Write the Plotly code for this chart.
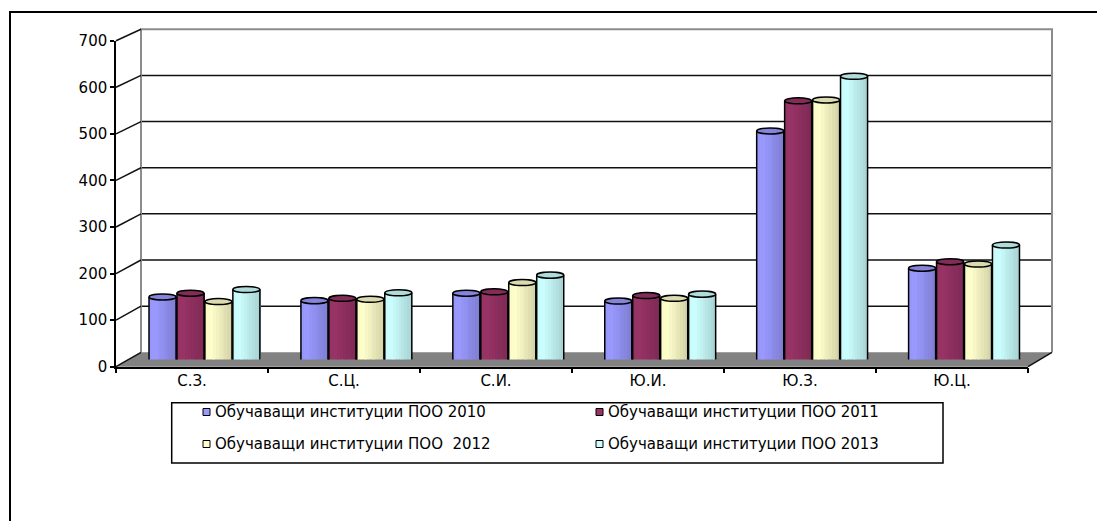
import numpy as np
import plotly.graph_objects as go

# ---- data -------------------------------------------------------------
regions = ["С.З.", "С.Ц.", "С.И.", "Ю.И.", "Ю.З.", "Ю.Ц."]
series_names = [
    "Обучаващи институции ПОО 2010",
    "Обучаващи институции ПОО 2011",
    "Обучаващи институции ПОО\u00a0 2012",
    "Обучаващи институции ПОО 2013",
]
v2010 = [135, 127, 143, 126, 493, 197]
v2011 = [143, 132, 146, 138, 558, 211]
v2012 = [125, 130, 166, 132, 560, 206]
v2013 = [151, 144, 182, 141, 611, 247]
series_values = [v2010, v2011, v2012, v2013]
y_ticks = [0, 100, 200, 300, 400, 500, 600, 700]

# ---- styling ----------------------------------------------------------
colors = ["#9999FF", "#993366", "#FFFFCC", "#CCFFFF"]
FONT = "DejaVu Sans"
W, H = 1097, 521
Y_MAX = 700

# pixel frame of the pseudo-3D box (front axis, back wall, mid depth)
FRONT_L, FRONT_R, FRONT_Y0, FRONT_YT = 116, 1028, 366.7, 40.7
BACK_L, BACK_R, BACK_Y0, BACK_YT = 141, 1052, 352.3, 29.3
MID_L, MID_R, MID_Y0, MID_YT = 128.5, 1040, 359.5, 35.0


def px(x):
    return x / W


def py(y):
    return (H - y) / H


def front_y(t):
    return FRONT_Y0 + (FRONT_YT - FRONT_Y0) * t / Y_MAX


def back_y(t):
    return BACK_Y0 + (BACK_YT - BACK_Y0) * t / Y_MAX


def shade(hex_color, f):
    h = hex_color.lstrip("#")
    rgb = [int(h[i:i + 2], 16) for i in (0, 2, 4)]
    rgb = [max(0, min(255, int(round(c * f)))) for c in rgb]
    return "rgb({},{},{})".format(*rgb)


# cylinder geometry in bar-axis units
slot = 0.184          # distance between neighbouring cylinders
bar_w = 0.178         # cylinder diameter
ell = 6.5             # half height of the elliptical caps (value units)
n_strips = 10

fig = go.Figure()

# cylinder bodies: vertical strips with a left-to-right shading
for k, (vals, col) in enumerate(zip(series_values, colors)):
    centers = np.arange(len(regions)) + (k - 1.5) * slot
    sw = bar_w / n_strips
    for j in range(n_strips):
        u = -1 + (2 * j + 1) / n_strips
        f = 1.0 - 0.05 * abs(u + 0.55) - 0.07 * max(0.0, u + 0.55)
        base = -ell * np.sqrt(max(0.0, 1 - u * u))
        fig.add_trace(go.Bar(
            x=centers + (j - (n_strips - 1) / 2) * sw,
            y=[v - base for v in vals],
            base=[base] * len(vals),
            width=sw * 1.08,
            marker=dict(color=shade(col, f), line=dict(width=0)),
            xaxis="x", yaxis="y",
            showlegend=False, hoverinfo="skip",
        ))

# carriers for the front axes and the back wall
fig.add_trace(go.Scatter(x=regions, y=[0] * len(regions), xaxis="x2", yaxis="y2",
                         mode="markers", marker=dict(opacity=0),
                         showlegend=False, hoverinfo="skip"))
fig.add_trace(go.Scatter(x=[0], y=[0], xaxis="x3", yaxis="y3",
                         mode="markers", marker=dict(opacity=0),
                         showlegend=False, hoverinfo="skip"))

shapes = []
# floor
shapes.append(dict(
    type="path", xref="paper", yref="paper", layer="below",
    path="M {},{} L {},{} L {},{} L {},{} Z".format(
        px(FRONT_L), py(FRONT_Y0), px(FRONT_R), py(FRONT_Y0),
        px(BACK_R), py(BACK_Y0), px(BACK_L), py(BACK_Y0)),
    fillcolor="#828282", line=dict(width=0)))
# back wall gridlines
for t in y_ticks[1:-1]:
    shapes.append(dict(type="line", xref="paper", yref="y3", layer="below",
                       x0=px(BACK_L), x1=px(BACK_R), y0=t, y1=t,
                       line=dict(color="#111111", width=1.5)))
# back wall frame
shapes.append(dict(
    type="path", xref="paper", yref="paper", layer="below",
    path="M {},{} L {},{} L {},{} L {},{}".format(
        px(BACK_L), py(BACK_Y0), px(BACK_L), py(BACK_YT),
        px(BACK_R), py(BACK_YT), px(BACK_R), py(BACK_Y0)),
    line=dict(color="#8c8c8c", width=2)))
# slanted ticks joining the value axis to the wall
for t in y_ticks:
    shapes.append(dict(type="line", xref="paper", yref="paper", layer="below",
                       x0=px(FRONT_L), y0=py(front_y(t)),
                       x1=px(BACK_L), y1=py(back_y(t)),
                       line=dict(color="#111111", width=1.5)))
shapes.append(dict(type="line", xref="paper", yref="paper", layer="below",
                   x0=px(FRONT_R), y0=py(FRONT_Y0), x1=px(BACK_R), y1=py(BACK_Y0),
                   line=dict(color="#111111", width=1.5)))

# cylinder outlines and top caps
k_b = 0.5523
for k, (vals, col) in enumerate(zip(series_values, colors)):
    for i, v in enumerate(vals):
        xc = i + (k - 1.5) * slot
        a = bar_w / 2
        xl, xr = xc - a, xc + a
        path = ("M {xl},{v} L {xl},0 C {xl},{c1} {c2},{b} {xc},{b} "
                "C {c3},{b} {xr},{c1} {xr},0 L {xr},{v}").format(
            xl=xl, xr=xr, xc=xc, v=v, b=-ell, c1=-k_b * ell,
            c2=xc - k_b * a, c3=xc + k_b * a)
        shapes.append(dict(type="path", xref="x", yref="y", layer="above",
                           path=path, line=dict(color="black", width=1.5)))
        shapes.append(dict(type="circle", xref="x", yref="y", layer="above",
                           x0=xl, x1=xr, y0=v - ell, y1=v + ell,
                           fillcolor=shade(col, 0.86),
                           line=dict(color="black", width=1.5)))

# legend
LEG_L, LEG_T, LEG_R, LEG_B = 171.7, 402.7, 943, 463
shapes.append(dict(type="rect", xref="paper", yref="paper", layer="above",
                   x0=px(LEG_L), x1=px(LEG_R), y0=py(LEG_B), y1=py(LEG_T),
                   line=dict(color="black", width=1.5), fillcolor="white"))
annotations = []
leg_cols = [203, 596]
leg_rows = [412, 444]
for k, (name, col) in enumerate(zip(series_names, colors)):
    cx = leg_cols[k % 2]
    cy = leg_rows[k // 2]
    shapes.append(dict(type="rect", xref="paper", yref="paper", layer="above",
                       x0=px(cx), x1=px(cx + 7), y0=py(cy + 3.5), y1=py(cy - 3.5),
                       fillcolor=col, line=dict(color="black", width=1)))
    annotations.append(dict(xref="paper", yref="paper", x=px(cx + 10), y=py(cy),
                            xanchor="left", yanchor="middle", showarrow=False,
                            text=name, font=dict(family=FONT, size=15, color="black")))

# outer chart border
shapes.append(dict(type="rect", xref="paper", yref="paper", layer="above",
                   x0=px(10), x1=1.01, y0=-0.01, y1=py(12),
                   line=dict(color="black", width=2)))

fig.update_layout(
    width=W, height=H,
    autosize=False,
    margin=dict(l=0, r=0, t=0, b=0, pad=0, autoexpand=False),
    paper_bgcolor="white",
    plot_bgcolor="rgba(0,0,0,0)",
    barmode="overlay",
    bargap=0,
    showlegend=False,
    shapes=shapes,
    annotations=annotations,
    xaxis=dict(domain=[px(MID_L), px(MID_R)], range=[-0.5, 5.5], visible=False,
               anchor="y", fixedrange=True),
    yaxis=dict(domain=[py(MID_Y0), py(MID_YT)], range=[0, Y_MAX], visible=False,
               anchor="x", fixedrange=True),
    xaxis2=dict(domain=[px(FRONT_L), px(FRONT_R)], type="category",
                categoryorder="array", categoryarray=regions, range=[-0.5, 5.5],
                anchor="y2", tickson="boundaries", ticks="outside", ticklen=5,
                tickcolor="black", tickwidth=1.5, showline=True, linecolor="black",
                linewidth=1.5, showgrid=False, zeroline=False, automargin=False,
                tickfont=dict(family=FONT, size=15, color="black")),
    yaxis2=dict(domain=[py(FRONT_Y0), py(FRONT_YT)], range=[0, Y_MAX], anchor="x2",
                tickmode="array", tickvals=y_ticks, ticks="outside", ticklen=4,
                tickcolor="black", tickwidth=1.5, showline=True, linecolor="black",
                linewidth=1.5, showgrid=False, zeroline=False, automargin=False,
                tickfont=dict(family=FONT, size=15, color="black")),
    xaxis3=dict(domain=[px(BACK_L), px(BACK_R)], range=[-0.5, 5.5], visible=False,
                anchor="y3"),
    yaxis3=dict(domain=[py(BACK_Y0), py(BACK_YT)], range=[0, Y_MAX], visible=False,
                anchor="x3"),
)

fig.write_html("out.html")
